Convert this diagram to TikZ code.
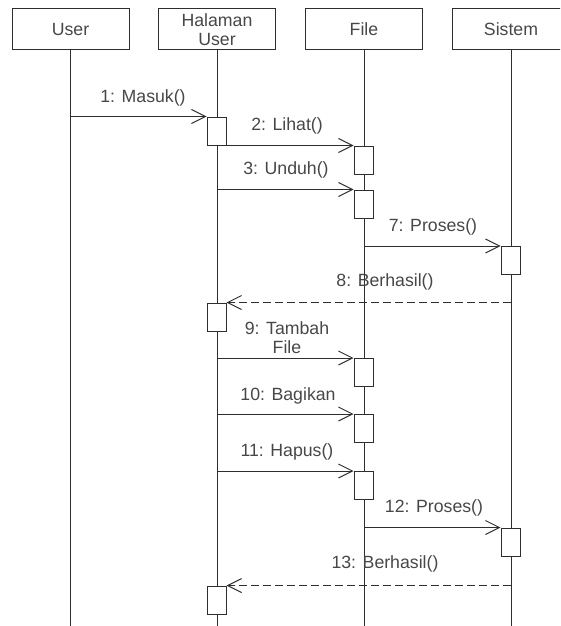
\documentclass[tikz,border=0pt]{standalone}
\usepackage{fontspec}
\setmainfont{Liberation Sans}
\usetikzlibrary{arrows.meta}
\definecolor{ink}{HTML}{2E2E2E}
\definecolor{txt}{HTML}{474747}
\begin{document}
\begin{tikzpicture}[x=1pt,y=-1pt,
  head/.style={draw=ink, line width=1pt, minimum width=117pt, minimum height=41pt,
    inner sep=0pt, align=center, font=\fontsize{17.7}{19}\selectfont, text=txt},
  act/.style={draw=ink, line width=1pt, fill=white, minimum width=19pt,
    minimum height=28pt, inner sep=0pt},
  life/.style={draw=ink, line width=1pt},
  msg/.style={draw=ink, line width=1pt,
    -{Straight Barb[length=14pt,width=14pt,line width=1pt]}},
  reply/.style={msg, dash pattern=on 8pt off 4pt},
  lbl/.style={font=\fontsize{17.7}{19}\selectfont, text=txt, inner sep=0pt, align=center}]
\useasboundingbox (0,0) rectangle (560,626);
\clip (0,0) rectangle (560,626);

% participants
\node[head] (user) at (70.5,29.5) {User};
\node[head] (hal)  at (217,29.5) {Halaman\\User};
\node[head] (file) at (364,29.5) {File};
\node[head] (sis)  at (511,29.5) {Sistem};

% lifelines
\coordinate (userEnd) at (user.south |- 0,626);
\coordinate (halEnd)  at (hal.south |- 0,626);
\coordinate (fileEnd) at (file.south |- 0,626);
\coordinate (sisEnd)  at (sis.south |- 0,626);
\draw[life] (user.south) -- (userEnd);
\draw[life] (hal.south) -- (halEnd);
\draw[life] (file.south) -- (fileEnd);
\draw[life] (sis.south) -- (sisEnd);

% activation bars
\node[act] (a1)  at (216.5,131)   {};
\node[act] (f2)  at (363.5,160)   {};
\node[act] (f3)  at (363.5,204)   {};
\node[act] (s7)  at (510.5,260.5) {};
\node[act] (a8)  at (216.5,317)   {};
\node[act] (f9)  at (363.5,372.5) {};
\node[act] (f10) at (363.5,428.5) {};
\node[act] (f11) at (363.5,485.5) {};
\node[act] (s12) at (510.5,542)   {};
\node[act] (a13) at (216.5,600)   {};

% messages
\draw[msg] (a1.north west -| user.south) -- (a1.north west);
\draw[msg] (a1.south east) -- (f2.north west);
\draw[msg] (f3.north west -| hal.south) -- (f3.north west);
\draw[msg] (s7.north west -| file.south) -- (s7.north west);
\draw[reply] (a8.north east -| sis.south) -- (a8.north east);
\draw[msg] (f9.north west -| hal.south) -- (f9.north west);
\draw[msg] (f10.north west -| hal.south) -- (f10.north west);
\draw[msg] (f11.north west -| hal.south) -- (f11.north west);
\draw[msg] (s12.north west -| file.south) -- (s12.north west);
\draw[reply] (a13.north east -| sis.south) -- (a13.north east);

% message labels
\node[lbl] (l1)  at (143,98)  {1: Masuk()};
\node[lbl] (l2)  at (287,126) {2: Lihat()};
\node[lbl] (l3)  at (286,170) {3: Unduh()};
\node[lbl] (l7)  at (433,227) {7: Proses()};
\node[lbl] (l8)  at (385,282) {8: Berhasil()};
\node[lbl] (l9)  at (287,338) {9: Tambah\\File};
\node[lbl] (l10) at (288,396) {10: Bagikan};
\node[lbl] (l11) at (287,452) {11: Hapus()};
\node[lbl] (l12) at (434,508) {12: Proses()};
\node[lbl] (l13) at (385,564) {13: Berhasil()};
\end{tikzpicture}
\end{document}
